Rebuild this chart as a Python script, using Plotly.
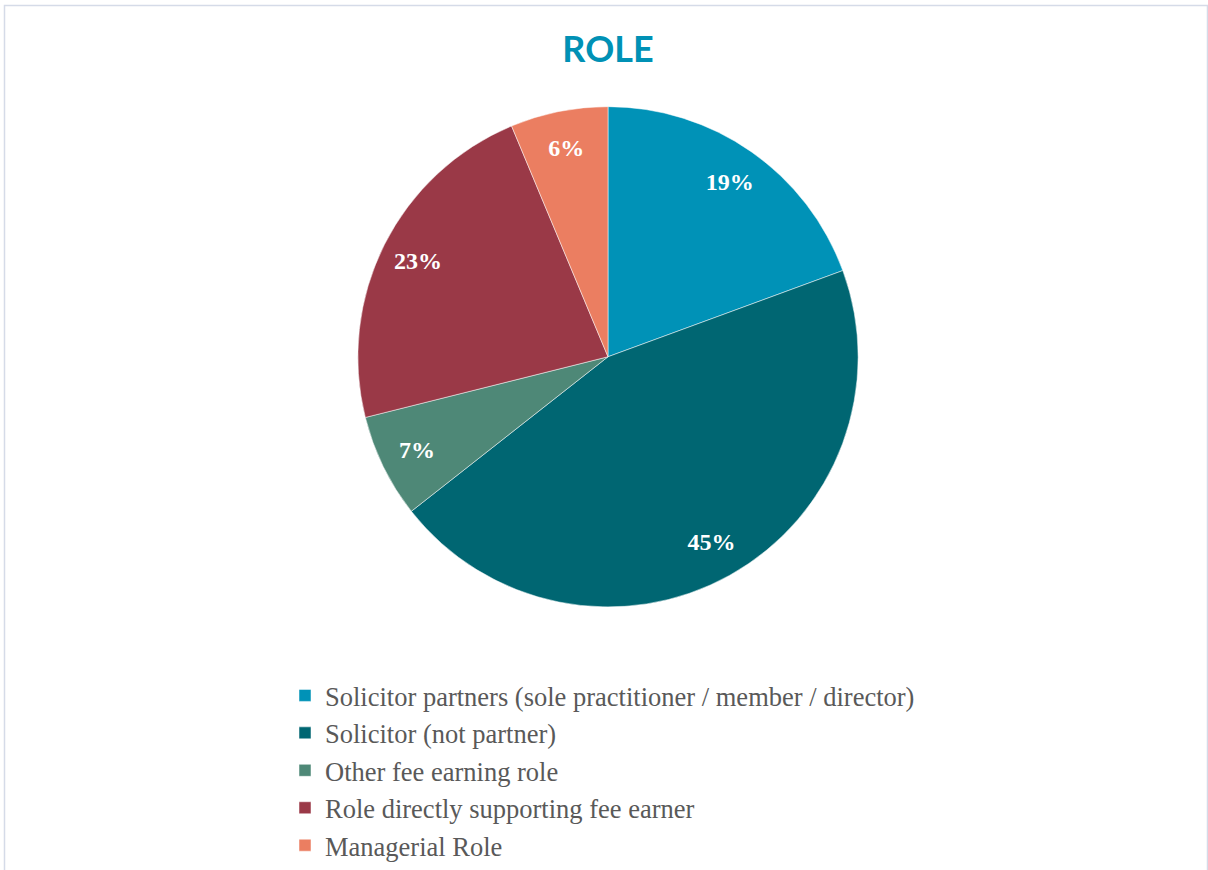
import plotly.graph_objects as go

categories = [
    "Solicitor partners (sole practitioner / member / director)",
    "Solicitor (not partner)",
    "Other fee earning role",
    "Role directly supporting fee earner",
    "Managerial Role",
]
values = [19.4, 45.0, 6.7, 22.6, 6.3]
colors = ["#0092B7", "#006672", "#4E8877", "#9A3947", "#EB7E61"]

W, H = 1208, 870
cx, cy, r = 608, 358, 251
dom = dict(x=[(cx - r) / W, (cx + r) / W], y=[(H - cy - r) / H, (H - cy + r) / H])

fig = go.Figure()
fig.add_trace(go.Pie(
    labels=categories,
    values=values,
    sort=False,
    direction="clockwise",
    rotation=0,
    marker=dict(colors=colors, line=dict(color="white", width=0.5)),
    textinfo="none",
    hoverinfo="label+percent",
    domain=dom,
))
# transparent ring used only to place the percentage labels near the rim
fig.add_trace(go.Pie(
    labels=categories,
    values=values,
    sort=False,
    direction="clockwise",
    rotation=0,
    hole=0.70,
    marker=dict(colors=["rgba(0,0,0,0)"] * len(values), line=dict(width=0)),
    texttemplate="%{percent:.0%}",
    textposition="inside",
    insidetextorientation="horizontal",
    textfont=dict(family="Liberation Serif", size=24, color="white", weight="bold"),
    hoverinfo="skip",
    showlegend=False,
    domain=dom,
))

fig.update_layout(
    width=W, height=H,
    margin=dict(l=0, r=0, t=0, b=0),
    paper_bgcolor="white",
    plot_bgcolor="white",
    font=dict(family="Liberation Serif", size=26.5, color="#595959"),
    title=dict(
        text="<b>ROLE</b>",
        x=608 / W, xanchor="center",
        y=1 - 49 / H, yanchor="middle",
        font=dict(family="Lato", size=36, color="#0091B5"),
    ),
    legend=dict(
        x=285 / W, xanchor="left",
        y=1 - 674 / H, yanchor="top",
        font=dict(family="Liberation Serif", size=26.5, color="#595959"),
        bgcolor="rgba(0,0,0,0)",
        itemclick=False,
    ),
    shapes=[dict(
        type="rect", xref="paper", yref="paper",
        x0=4.5 / W, x1=1207.5 / W, y0=-0.02, y1=1 - 5.5 / H,
        line=dict(color="#D5DBE8", width=1.5),
        fillcolor="rgba(0,0,0,0)",
        layer="below",
    )],
)

fig.write_html(
    "out.html",
    config={"displayModeBar": False},
    post_script="document.body.style.margin='0';document.body.style.overflow='hidden';",
)
